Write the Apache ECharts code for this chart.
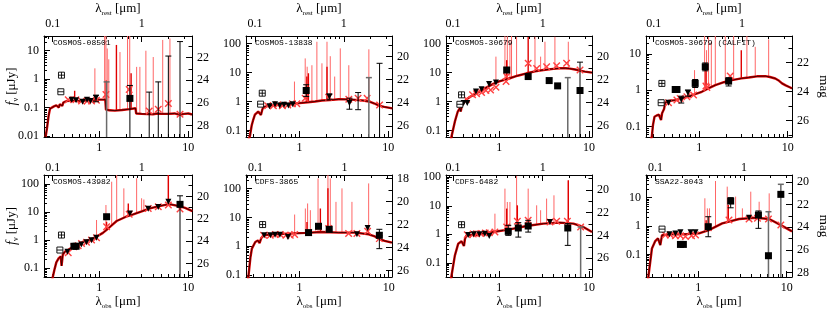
<!DOCTYPE html>
<html><head><meta charset="utf-8">
<script src="https://cdn.jsdelivr.net/npm/echarts@6/dist/echarts.min.js"></script>
<style>html,body{margin:0;padding:0;background:#fff}#c{width:830px;height:314px}</style>
</head><body><div id="c"></div><script>
// ---------------- DATA (wavelength in micron, flux in microJy) ----------------
const panelNames = ['COSMOS-08501','COSMOS-13838','COSMOS-30679','COSMOS-30679 (CALFIT)','COSMOS-43982','CDFS-3865','CDFS-6482','SSA22-8043'];
const redshifts = [2.0, 2.15, 2.05, 2.05, 2.0, 2.2, 2.05, 2.3];
const obsTickLabels = [1, 10];
const restTickLabels = [0.1, 1];
const magTickLabels = [18, 20, 22, 24, 26, 28];

// Panel 1
const p1Cont = [[0.25,0.0092],[0.26,0.02],[0.27,0.05],[0.28,0.09],[0.29,0.105],[0.31,0.11],[0.33,0.12],[0.345,0.125],[0.352,0.1],[0.36,0.13],[0.375,0.14],[0.385,0.115],[0.395,0.15],[0.43,0.17],[0.5,0.175],[0.6,0.17],[0.7,0.175],[0.8,0.18],[0.9,0.185],[1.0,0.19],[1.1,0.19],[1.17,0.19],[1.19,0.085],[1.3,0.08],[1.5,0.078],[1.8,0.082],[2.2,0.088],[2.55,0.095],[2.6,0.062],[3,0.06],[4,0.058],[4.5,0.062],[5,0.06],[6,0.06],[7,0.062],[8,0.056],[9,0.06],[10,0.062],[11,0.057]];
const p1Lines = [[0.894,0.185,2.4],[1.15,0.19,33],[1.19,0.085,33],[1.23,0.08,12],[1.28,0.08,5],[1.71,0.08,9],[2.08,0.088,33],[2.2,0.088,33],[2.63,0.062,2.7],[2.86,0.06,2.7],[3.34,0.06,10],[4.04,0.06,6],[5.16,0.06,24],[6.22,0.06,27]];
const p1LinesDark = [[0.53,0.17,0.39],[1.2,0.085,0.9],[1.56,0.08,16],[2.28,0.09,1.6]];
const p1Model = [[0.449,0.19],[0.547,0.19],[0.633,0.17],[0.733,0.17],[0.82,0.17],[0.93,0.18],[1.19,0.29],[2.17,0.43],[3.64,0.076],[4.6,0.087],[5.97,0.138],[8.07,0.058]];
const p1Sq = [[2.21,0.21]];
const p1Pt = [[0.49,0.19],[0.55,0.18],[0.65,0.16],[0.73,0.19],[0.8,0.17],[0.92,0.22]];
const p1BoxPlus = [[0.377,1.38]];
const p1BoxMinus = [[0.371,0.36]];
const p1Err = [[0.92,0.16,0.27],[2.21,0.005,0.6],[3.64,0.005,0.35],[4.6,0.005,0.8],[5.97,0.005,6.5],[8.07,0.005,21]];
const p1ErrGray = [[1.21,0.005,0.8]];

// Panel 2
const p2Cont = [[0.265,0.045],[0.277,0.065],[0.29,0.15],[0.3,0.22],[0.315,0.35],[0.343,0.45],[0.36,0.48],[0.368,0.34],[0.38,0.5],[0.391,0.64],[0.446,0.71],[0.55,0.75],[0.75,0.83],[1.0,0.88],[1.16,0.92],[1.5,1.0],[1.79,1.08],[2.2,1.12],[2.76,1.2],[3.5,1.18],[4.26,1.14],[5.2,1.08],[6.04,1.0],[7.0,0.85],[7.83,0.72],[9.0,0.65],[11.1,0.58]];
const p2Lines = [[0.878,0.85,4.9],[1.16,0.92,31],[1.22,0.93,16],[1.38,0.96,18],[1.57,1.0,117],[1.79,1.08,21],[2.04,1.1,117],[2.22,1.12,37],[2.49,1.15,7.3],[2.88,1.2,69],[3.59,1.18,18],[6.04,1.0,64]];
const p2LinesDark = [[1.21,0.93,7.3],[1.26,0.94,9.5],[2.04,1.1,16]];
const p2Model = [[0.438,0.71],[0.508,0.71],[0.569,0.77],[0.642,0.71],[0.738,0.75],[0.833,0.83],[0.933,0.83],[1.159,1.3],[2.13,1.41],[3.59,1.2],[4.57,1.3],[5.77,1.3],[7.97,0.75]];
const p2Sq = [[1.19,2.4]];
const p2Pt = [[0.46,0.68],[0.53,0.8],[0.6,0.72],[0.67,0.77],[0.75,0.72],[0.84,0.8],[2.17,1.49],[3.65,0.88]];
const p2BoxPlus = [[0.381,1.94]];
const p2BoxMinus = [[0.365,0.81]];
const p2Err = [[1.19,1.5,3.8],[2.17,1.2,1.8],[3.65,0.54,1.3],[4.57,0.52,2.04],[7.97,0.01,21]];
const p2ErrGray = [[6.04,0.01,6.7]];

// Panel 3
const p3Cont = [[0.285,0.04],[0.294,0.062],[0.32,0.2],[0.345,0.45],[0.364,0.59],[0.372,0.45],[0.385,0.75],[0.432,1.2],[0.5,1.6],[0.559,1.94],[0.7,2.9],[0.857,4.06],[1.0,5.0],[1.31,6.37],[1.6,7.8],[2.02,9.47],[2.5,11],[3.1,12.3],[4.0,13.5],[4.74,14.1],[5.5,14.2],[6.14,13.7],[7.0,12.8],[7.94,11.7],[9,10.8],[10.8,10.0]];
const p3Lines = [[0.918,4.3,35.7],[1.157,5.8,184],[1.23,6.2,184],[1.315,6.4,133],[1.37,6.6,184],[1.56,7.5,174],[2.5,11,174],[2.89,12,35.7],[3.23,12.5,117],[4.17,13.6,174],[5.88,14,117]];
const p3LinesDark = [[1.21,6.1,27],[2.1,9.6,170]];
const p3Model = [[0.432,1.2],[0.504,1.7],[0.559,1.84],[0.635,2.04],[0.71,2.4],[0.8,2.5],[0.918,3.1],[1.19,4.9],[1.21,7.3],[2.1,21],[2.61,14],[3.37,16],[4.36,17.4],[5.63,21],[7.94,12.3]];
const p3Sq = [[1.21,12.3],[2.1,7.3],[3.6,5.3],[4.47,3.47],[7.94,2.4]];
const p3Pt = [[0.4,0.88],[0.44,0.88],[0.55,2.2],[0.635,2.66],[0.77,4.06],[0.918,4.5]];
const p3BoxPlus = [[0.38,1.7]];
const p3BoxMinus = [[0.364,0.8]];
const p3Err = [[7.94,0.01,23]];
const p3ErrGray = [[5.8,0.01,6.7]];

// Panel 4
const p4Cont = [[0.285,0.045],[0.291,0.052],[0.3,0.11],[0.312,0.185],[0.33,0.2],[0.35,0.21],[0.362,0.205],[0.37,0.15],[0.38,0.23],[0.4,0.3],[0.413,0.45],[0.45,0.5],[0.535,0.53],[0.65,0.6],[0.757,0.66],[0.9,0.78],[1.07,0.9],[1.25,1.1],[1.52,1.37],[1.9,1.65],[2.34,1.88],[3.0,2.1],[3.62,2.23],[4.5,2.4],[5.58,2.43],[6.3,2.3],[7.24,2.09],[8.0,1.8],[8.64,1.53],[9.5,1.35],[10.7,1.18],[11.2,1.12]];
const p4Lines = [[0.885,0.76,3.55],[1.15,0.95,31],[1.21,1.02,12.6],[1.275,1.1,29],[1.37,1.2,22],[1.52,1.37,31],[1.97,1.7,31],[2.45,1.9,31],[3.46,2.2,31],[4.3,2.35,15.6],[6.1,2.35,25]];
const p4LinesDark = [[1.19,1.0,5.4],[2.99,2.1,12.6]];
const p4Model = [[0.449,0.45],[0.559,0.53],[0.609,0.59],[0.725,0.66],[0.862,0.73],[1.19,1.29],[1.22,1.18],[2.24,2.43]];
const p4Sq = [[0.535,1.04],[0.56,1.04],[0.9,1.53],[1.17,4.4],[2.15,1.77]];
const p4Pt = [[0.45,0.45],[0.626,0.55],[0.745,0.84]];
const p4BoxPlus = [[0.378,1.53]];
const p4BoxMinus = [[0.371,0.45]];
const p4Err = [[0.626,0.44,0.68],[0.745,0.68,1.0],[0.9,1.18,1.96],[1.17,3.4,5.6],[2.15,1.3,2.2]];
const p4ErrGray = [];

// Panel 5
const p5Cont = [[0.29,0.03],[0.3,0.045],[0.315,0.09],[0.33,0.16],[0.35,0.22],[0.37,0.26],[0.378,0.12],[0.39,0.3],[0.411,0.38],[0.45,0.45],[0.51,0.58],[0.58,0.7],[0.66,0.87],[0.8,1.05],[0.93,1.31],[1.1,1.8],[1.21,2.3],[1.4,3.5],[1.57,4.8],[2.0,6.8],[2.41,8.3],[3.0,10.5],[3.71,13.5],[4.6,16],[5.7,18.5],[6.5,18.5],[7.4,17.0],[8.2,15.5],[9.2,14.0],[11.1,10.8]];
const p5Lines = [[0.933,1.31,5.2],[1.19,2.2,17.8],[1.38,3.4,121],[1.57,4.8,210],[1.89,6.3,70],[2.12,7.3,13.5],[2.63,9.2,160],[2.99,10.5,31],[3.17,11,28],[5.97,18.5,210]];
const p5LinesDark = [[1.21,2.3,4.5],[2.12,7.3,20],[5.97,18.5,210]];
const p5Model = [[0.449,0.353],[0.519,0.578],[0.58,0.63],[0.633,0.76],[0.72,0.83],[0.82,1.0],[0.933,1.21],[1.21,2.99],[2.17,8.27],[3.55,13.5],[4.6,15.5],[5.97,17.8],[8.07,12.8]];
const p5Sq = [[0.52,0.6],[0.55,0.6],[1.21,6.8],[8.07,18.8]];
const p5Pt = [[0.44,0.38],[0.63,0.7],[0.72,0.83],[0.82,0.98],[0.93,1.2],[2.21,8.9],[3.55,13],[4.6,15],[5.97,23.5]];
const p5BoxPlus = [[0.377,1.51]];
const p5BoxMinus = [[0.362,0.44]];
const p5Err = [[8.07,0.01,38]];
const p5ErrGray = [];

// Panel 6
const p6Cont = [[0.26,0.05],[0.267,0.097],[0.28,0.4],[0.291,0.83],[0.318,1.42],[0.34,1.6],[0.355,1.3],[0.37,1.9],[0.394,2.42],[0.49,2.62],[0.752,2.77],[1.16,2.92],[1.78,3.16],[2.74,3.0],[4.22,3.0],[5.96,2.62],[7.0,2.2],[7.7,1.85],[9,1.55],[10.9,1.34]];
const p6Lines = [[0.879,2.8,12.7],[1.16,2.9,20.6],[1.23,2.95,30.8],[1.32,3.0,18],[1.61,3.1,228],[2.08,3.1,315],[2.21,3.1,228],[2.56,3.05,35],[2.99,3.0,103],[3.87,3.0,35],[5.96,2.62,153]];
const p6LinesDark = [[1.21,2.95,7],[1.71,3.1,20.6],[2.08,3.1,103]];
const p6Model = [[0.394,2.42],[0.468,2.42],[0.533,2.55],[0.606,2.55],[0.702,2.42],[0.785,2.42],[0.879,2.55],[1.26,3.0],[1.63,4.72],[2.12,4.13],[3.55,2.77],[4.4,2.77],[5.8,3.33],[7.86,1.85]];
const p6Sq = [[1.26,3.0],[1.63,4.97],[2.15,3.9],[7.86,2.42]];
const p6Pt = [[0.4,2.4],[0.47,2.4],[0.53,2.5],[0.6,2.5],[0.74,2.12],[4.4,2.62],[5.8,4.35]];
const p6BoxPlus = [[0.384,5.7]];
const p6BoxMinus = [];
const p6Err = [[7.86,0.83,3.9],[1.26,2.6,3.4]];
const p6ErrGray = [];

// Panel 7
const p7Cont = [[0.285,0.02],[0.294,0.036],[0.32,0.18],[0.349,0.47],[0.38,0.57],[0.395,0.6],[0.404,0.39],[0.415,0.7],[0.432,0.92],[0.559,0.97],[0.857,1.21],[1.31,1.5],[2.02,1.96],[3.1,2.37],[4.74,2.57],[6.7,2.37],[8.65,1.81],[10.8,1.21]];
const p7Lines = [[0.895,1.22,5.3],[1.157,1.4,40],[1.23,1.45,13.6],[1.315,1.5,13.6],[1.56,1.7,111],[2.1,2.0,40],[2.61,2.2,10.4],[2.89,2.3,7],[3.37,2.4,17.9],[4.07,2.5,23.3],[5.88,2.45,78]];
const p7LinesDark = [[1.21,1.45,8],[1.59,1.75,10.4],[5.88,2.45,78]];
const p7Model = [[0.44,0.97],[0.513,1.03],[0.559,1.05],[0.624,1.08],[0.698,1.11],[0.774,1.14],[0.895,1.21],[1.21,1.81],[1.59,2.86],[2.1,3.1],[3.67,2.71],[4.36,2.86],[5.74,2.86],[8.07,1.81]];
const p7Sq = [[1.26,1.27],[1.63,1.67],[2.1,1.96],[5.8,1.67]];
const p7Pt = [[0.45,0.95],[0.52,1.0],[0.6,1.0],[0.69,1.05],[0.774,0.87],[3.67,2.71]];
const p7BoxPlus = [[0.38,2.18]];
const p7BoxMinus = [];
const p7Err = [[1.26,0.92,2.07],[1.63,0.8,2.57],[2.1,1.2,3.1],[5.8,0.41,2.37]];
const p7ErrGray = [[8.07,0.01,1.81]];

// Panel 8
const p8Cont = [[0.27,0.012],[0.275,0.019],[0.3,0.163],[0.327,0.295],[0.351,0.37],[0.373,0.213],[0.39,0.48],[0.506,0.51],[0.658,0.51],[1.02,0.55],[1.32,0.72],[1.87,1.24],[2.9,1.77],[4.48,1.97],[6.35,1.77],[8.6,1.08],[11.5,0.65]];
const p8Lines = [[1.19,0.68,9.5],[1.27,0.72,4.2],[1.34,0.75,4.2],[1.57,0.95,38.7],[2.13,1.35,24.5],[2.65,1.65,10.9],[3.16,1.8,4.2],[3.93,1.9,16.3],[4.89,1.95,7.2],[6.35,1.77,14.2]];
const p8LinesDark = [[1.23,0.7,1.6],[2.19,1.4,5.5]];
const p8Model = [[0.425,0.48],[0.485,0.48],[0.553,0.456],[0.63,0.456],[0.718,0.43],[0.84,0.456],[0.933,0.48],[1.3,0.87],[2.23,1.63],[3.76,1.77],[4.68,1.87],[6.23,1.77],[8.6,1.08]];
const p8Sq = [[0.63,0.225],[0.68,0.225],[1.3,0.95],[2.33,7.6],[4.8,2.45],[6.23,0.09],[8.6,13.1]];
const p8Pt = [[0.473,0.51],[0.553,0.55],[0.63,0.6],[0.82,0.6],[0.933,0.6],[3.76,1.97]];
const p8BoxPlus = [];
const p8BoxMinus = [[0.39,0.78]];
const p8Err = [[1.3,0.42,2.13],[2.33,4.4,10],[4.8,0.83,3.4]];
const p8ErrGray = [[6.23,0.005,3.2],[8.6,0.005,29.6]];

// ---------------- LAYOUT (pixels / axis ranges) ----------------
const LAYOUT = [
  {l:44,  t:36,  w:148, h:101, xr:[0.24,11],    yr:[0.0092,33]},
  {l:246, t:36,  w:146, h:101, xr:[0.25,11],    yr:[0.059,185]},
  {l:446, t:36,  w:146, h:101, xr:[0.255,10.8], yr:[0.059,185]},
  {l:646, t:36,  w:146, h:101, xr:[0.25,11.2],  yr:[0.051,31]},
  {l:44,  t:175, w:148, h:102, xr:[0.24,11],    yr:[0.048,210]},
  {l:246, t:175, w:146, h:102, xr:[0.25,10.9],  yr:[0.086,300]},
  {l:446, t:175, w:146, h:102, xr:[0.255,10.8], yr:[0.032,120]},
  {l:646, t:175, w:146, h:102, xr:[0.257,11.5], yr:[0.016,63]}
];
const PANELS = [
  {cont:p1Cont,lines:p1Lines,dark:p1LinesDark,model:p1Model,sq:p1Sq,pt:p1Pt,bp:p1BoxPlus,bm:p1BoxMinus,err:p1Err,errg:p1ErrGray},
  {cont:p2Cont,lines:p2Lines,dark:p2LinesDark,model:p2Model,sq:p2Sq,pt:p2Pt,bp:p2BoxPlus,bm:p2BoxMinus,err:p2Err,errg:p2ErrGray},
  {cont:p3Cont,lines:p3Lines,dark:p3LinesDark,model:p3Model,sq:p3Sq,pt:p3Pt,bp:p3BoxPlus,bm:p3BoxMinus,err:p3Err,errg:p3ErrGray},
  {cont:p4Cont,lines:p4Lines,dark:p4LinesDark,model:p4Model,sq:p4Sq,pt:p4Pt,bp:p4BoxPlus,bm:p4BoxMinus,err:p4Err,errg:p4ErrGray},
  {cont:p5Cont,lines:p5Lines,dark:p5LinesDark,model:p5Model,sq:p5Sq,pt:p5Pt,bp:p5BoxPlus,bm:p5BoxMinus,err:p5Err,errg:p5ErrGray},
  {cont:p6Cont,lines:p6Lines,dark:p6LinesDark,model:p6Model,sq:p6Sq,pt:p6Pt,bp:p6BoxPlus,bm:p6BoxMinus,err:p6Err,errg:p6ErrGray},
  {cont:p7Cont,lines:p7Lines,dark:p7LinesDark,model:p7Model,sq:p7Sq,pt:p7Pt,bp:p7BoxPlus,bm:p7BoxMinus,err:p7Err,errg:p7ErrGray},
  {cont:p8Cont,lines:p8Lines,dark:p8LinesDark,model:p8Model,sq:p8Sq,pt:p8Pt,bp:p8BoxPlus,bm:p8BoxMinus,err:p8Err,errg:p8ErrGray}
];

const SERIF = 'Liberation Serif';
const MONO = 'Liberation Mono';

function fmtNum(v){ return String(parseFloat(Number(v).toPrecision(6))); }
function inRange(v, r){ return v >= r[0]*1.0001 && v <= r[1]*0.9999; }
function majorsIn(r){ const o=[]; for(let e=-3;e<=3;e++){ const v=+Math.pow(10,e).toPrecision(6); if(inRange(v,r)) o.push(v);} return o; }
function minorsIn(r){ const o=[]; for(let e=-3;e<=3;e++){ for(let m=2;m<=9;m++){ const v=+(m*Math.pow(10,e)).toPrecision(6); if(inRange(v,r)) o.push(v);} } return o; }
function magToF(m){ return Math.pow(10,(23.9-m)/2.5); }
function fToMag(f){ return 23.9-2.5*Math.log10(f); }

const grids=[], xAxes=[], yAxes=[], series=[], graphics=[];
const black = {color:'#000', width:1};

function vlineRender(color, width){
  return function(params, api){
    const x=api.value(0), a=api.value(1), b=api.value(2);
    const cs=params.coordSys;
    const p0=api.coord([x,a]), p1=api.coord([x,b]);
    const top=cs.y, bot=cs.y+cs.height;
    const y1=Math.min(Math.max(p0[1],top),bot), y2=Math.min(Math.max(p1[1],top),bot);
    return {type:'line', shape:{x1:p0[0],y1:y1,x2:p1[0],y2:y2}, style:{stroke:color,lineWidth:width}};
  };
}
function errRender(color, width){
  return function(params, api){
    const x=api.value(0), lo=api.value(1), hi=api.value(2);
    const cs=params.coordSys;
    const a=api.coord([x,hi]), b=api.coord([x,lo]);
    const top=cs.y, bot=cs.y+cs.height;
    const yT=Math.max(a[1],top), yB=Math.min(b[1],bot);
    const st={stroke:color,lineWidth:width};
    const ch=[{type:'line',shape:{x1:a[0],y1:yT,x2:a[0],y2:yB},style:st}];
    if(a[1]>=top) ch.push({type:'line',shape:{x1:a[0]-3,y1:a[1],x2:a[0]+3,y2:a[1]},style:st});
    if(b[1]<=bot) ch.push({type:'line',shape:{x1:b[0]-3,y1:b[1],x2:b[0]+3,y2:b[1]},style:st});
    return {type:'group',children:ch};
  };
}

LAYOUT.forEach((g,i)=>{
  const P=PANELS[i], z=redshifts[i], row=i<4?0:1;
  const xr=g.xr, yr=g.yr, rr=[xr[0]/(1+z), xr[1]/(1+z)];
  grids.push({left:g.l, top:g.t, width:g.w, height:g.h, containLabel:false, outerBoundsMode:'none', show:false});
  const base = {gridIndex:i, type:'log', logBase:10, splitLine:{show:false}, minorTick:{show:false}, minorSplitLine:{show:false}, silent:true, axisPointer:{show:false}};
  const lab = {fontFamily:SERIF, fontSize:12, color:'#000'};
  xAxes.push({...base, position:'bottom', min:xr[0], max:xr[1],
    axisLine:{show:true,onZero:false,lineStyle:black},
    axisTick:{show:true,inside:true,length:6,customValues:majorsIn(xr),lineStyle:black},
    axisLabel:{show:true,customValues:obsTickLabels.filter(v=>inRange(v,xr)),margin:5,...lab,formatter:fmtNum}});
  xAxes.push({...base, position:'bottom', min:xr[0], max:xr[1],
    axisLine:{show:false}, axisTick:{show:true,inside:true,length:3,customValues:minorsIn(xr),lineStyle:black}, axisLabel:{show:false}});
  xAxes.push({...base, position:'top', min:rr[0], max:rr[1],
    axisLine:{show:true,onZero:false,lineStyle:black},
    axisTick:{show:true,inside:true,length:6,customValues:majorsIn(rr),lineStyle:black},
    axisLabel:{show:true,customValues:restTickLabels.filter(v=>inRange(v,rr)),margin:row===0?6:1,...lab,formatter:fmtNum}});
  xAxes.push({...base, position:'top', min:rr[0], max:rr[1],
    axisLine:{show:false}, axisTick:{show:true,inside:true,length:3,customValues:minorsIn(rr),lineStyle:black}, axisLabel:{show:false}});
  const magR=[fToMag(yr[1]), fToMag(yr[0])];
  const magMaj=magTickLabels.filter(m=>m>magR[0]+0.01 && m<magR[1]-0.01).map(magToF);
  const magMin=[]; for(let m=Math.ceil(magR[0]); m<=Math.floor(magR[1]); m++){ if(m%2!==0) magMin.push(magToF(m)); }
  yAxes.push({...base, position:'left', min:yr[0], max:yr[1],
    axisLine:{show:true,onZero:false,lineStyle:black},
    axisTick:{show:true,inside:true,length:6,customValues:majorsIn(yr),lineStyle:black},
    axisLabel:{show:true,customValues:majorsIn(yr),margin:5,...lab,formatter:fmtNum}});
  yAxes.push({...base, position:'left', min:yr[0], max:yr[1],
    axisLine:{show:false}, axisTick:{show:true,inside:true,length:3,customValues:minorsIn(yr),lineStyle:black}, axisLabel:{show:false}});
  yAxes.push({...base, position:'right', min:yr[0], max:yr[1],
    axisLine:{show:true,onZero:false,lineStyle:black},
    axisTick:{show:true,inside:true,length:6,customValues:magMaj,lineStyle:black},
    axisLabel:{show:true,customValues:magMaj,margin:5,...lab,formatter:v=>String(Math.round(fToMag(v)))}});
  yAxes.push({...base, position:'right', min:yr[0], max:yr[1],
    axisLine:{show:false}, axisTick:{show:true,inside:true,length:3.5,customValues:magMin,lineStyle:black}, axisLabel:{show:false}});

  const ax={xAxisIndex:4*i, yAxisIndex:4*i, silent:true, animation:false};
  series.push({...ax, type:'custom', z:1, clip:true, data:P.lines, renderItem:vlineRender('#ff6666',1)});
  series.push({...ax, type:'custom', z:2, clip:true, data:P.dark, renderItem:vlineRender('#e00000',1.4)});
  series.push({...ax, type:'line', z:3, data:P.cont, showSymbol:false, symbol:'none', lineStyle:{color:'#e00000',width:2.4}});
  series.push({...ax, type:'line', z:4, data:P.cont, showSymbol:false, symbol:'none', lineStyle:{color:'#000',width:0.7}});
  series.push({...ax, type:'scatter', z:5, data:P.model, symbol:'path://M0 0L10 10M10 0L0 10', symbolSize:6.5,
    itemStyle:{color:'rgba(0,0,0,0)', borderColor:'#ff4040', borderWidth:1.4, opacity:1}});
  series.push({...ax, type:'custom', z:6, clip:true, data:P.errg, renderItem:errRender('#6a6a6a',1.5)});
  series.push({...ax, type:'custom', z:6, clip:true, data:P.err, renderItem:errRender('#000',1)});
  series.push({...ax, type:'scatter', z:7, data:P.sq, symbol:'rect', symbolSize:7, itemStyle:{color:'#000', opacity:1}});
  series.push({...ax, type:'scatter', z:7, data:P.pt, symbol:'triangle', symbolRotate:180, symbolSize:6, itemStyle:{color:'#000', opacity:1}});
  series.push({...ax, type:'scatter', z:7, data:P.bp, symbol:'path://M0 0H10V10H0Z M5 0V10 M0 5H10', symbolSize:6,
    itemStyle:{color:'#fff', borderColor:'#000', borderWidth:0.9, opacity:1}});
  series.push({...ax, type:'scatter', z:7, data:P.bm, symbol:'path://M0 0H10V10H0Z M0 5H10', symbolSize:6,
    itemStyle:{color:'#fff', borderColor:'#000', borderWidth:0.9, opacity:1}});

  graphics.push({type:'text', x:g.l+9, y:g.t+7, z:100, silent:true,
    style:{text:panelNames[i], fontFamily:MONO, fontSize:8, fill:'#000', align:'left', verticalAlign:'middle'}});
  const cx=g.l+g.w/2, cy=g.t+g.h/2;
  const titleRich = {a:{fontFamily:SERIF,fontSize:13,fill:'#000',lineHeight:15}, b:{fontFamily:SERIF,fontSize:7,fill:'#000',lineHeight:7,verticalAlign:'bottom'}};
  if(row===0){
    graphics.push({type:'text', x:cx, y:9, silent:true,
      style:{text:'{a|λ}{b|rest}{a| [μm]}', align:'center', verticalAlign:'middle', rich:titleRich}});
  } else {
    graphics.push({type:'text', x:cx, y:302, silent:true,
      style:{text:'{a|λ}{b|obs}{a| [μm]}', align:'center', verticalAlign:'middle', rich:titleRich}});
  }
  if(i%4===0){
    graphics.push({type:'text', x:12, y:cy, rotation:Math.PI/2, silent:true,
      style:{text:'{i|f}{n|ν}{a| [μJy]}', align:'center', verticalAlign:'middle',
        rich:{i:{fontFamily:SERIF,fontStyle:'italic',fontSize:14,fill:'#000',lineHeight:15}, n:{fontFamily:SERIF,fontSize:8,fill:'#000',lineHeight:8,verticalAlign:'bottom'}, a:{fontFamily:SERIF,fontSize:13,fill:'#000',lineHeight:15}}}});
  }
  if(i%4===3){
    graphics.push({type:'text', x:823, y:cy, rotation:-Math.PI/2, silent:true,
      style:{text:'mag', fontFamily:SERIF, fontSize:13, fill:'#000', align:'center', verticalAlign:'middle'}});
  }
});

const chart = echarts.init(document.getElementById('c'), null, {renderer:'canvas'});
chart.setOption({
  animation:false,
  backgroundColor:'#fff',
  textStyle:{fontFamily:SERIF},
  grid:grids, xAxis:xAxes, yAxis:yAxes, series:series, graphic:graphics
});
</script></body></html>
